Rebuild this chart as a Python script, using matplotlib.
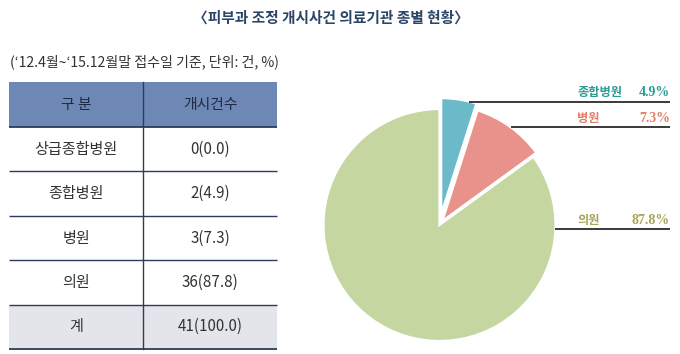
import numpy as np
import matplotlib
matplotlib.use('Agg')
import matplotlib.pyplot as plt
from matplotlib.patches import Rectangle

plt.rcParams['font.family'] = ['Noto Sans CJK KR', 'DejaVu Sans']

# table data
col_heads = ['구 분', '개시건수']
categories = ['상급종합병원', '종합병원', '병원', '의원']
counts = [0, 2, 3, 36]
shares = [0.0, 4.9, 7.3, 87.8]
total_label = '계'
total_count = 41
total_share = 100.0

# pie data (wedge sizes as drawn in the picture, labels as printed)
pie_labels = ['종합병원', '병원', '의원']
pie_pct = [4.9, 7.3, 87.8]
pie_drawn = [4.9, 10.1, 85.0]
pie_colors = ['#6bbac9', '#e8928b', '#c5d6a1']
text_colors = ['#2a9b94', '#e07f6c', '#a9a458']
explode = [11, 5, 0]
leader_angle = [76, 54, -2]

W, H = 680, 354
fig = plt.figure(figsize=(W / 100, H / 100), dpi=100)
ax = fig.add_axes([0, 0, 1, 1])

def Y(y):
    return H - y

# title / subtitle
ax.text(331, Y(18), '〈피부과 조정 개시사건 의료기관 종별 현황〉', ha='center', va='center',
        fontsize=10.6, fontweight='bold', color='#2a4565')
ax.text(10, Y(62), '(‘12.4월~‘15.12월말 접수일 기준, 단위: 건, %)', ha='left', va='center',
        fontsize=10.1, color='#333333')

# table
x0, xm, x1 = 9, 143, 277
head_top, head_bot = 82, 127
row_h = 44.4
line_c = '#2b3c5c'
n = len(categories) + 1
bounds = [head_bot + i * row_h for i in range(n + 1)]

ax.add_patch(Rectangle((x0, Y(head_bot)), x1 - x0, head_bot - head_top,
                       facecolor='#6d88b4', edgecolor='none'))
ax.add_patch(Rectangle((x0, Y(bounds[-1])), x1 - x0, row_h,
                       facecolor='#e3e5ea', edgecolor='none'))
for i, b in enumerate(bounds):
    ax.plot([x0, x1], [Y(b), Y(b)], color=line_c, lw=1.3 if i in (0, n) else 1.0,
            solid_capstyle='butt')
ax.plot([xm, xm], [Y(head_top), Y(bounds[-1])], color=line_c, lw=1.0)

cx_a, cx_b = (x0 + xm) / 2, (xm + x1) / 2
hy = (head_top + head_bot) / 2
ax.text(cx_a, Y(hy), col_heads[0], ha='center', va='center', fontsize=10.7, color='#1d2b47')
ax.text(cx_b, Y(hy), col_heads[1], ha='center', va='center', fontsize=10.7, color='#1d2b47')

rows = [(c, f'{k}({s:.1f})') for c, k, s in zip(categories, counts, shares)]
rows.append((total_label, f'{total_count}({total_share:.1f})'))
for i, (a, b) in enumerate(rows):
    yc = (bounds[i] + bounds[i + 1]) / 2
    ax.text(cx_a, Y(yc), a, ha='center', va='center', fontsize=10.9, color='#333333')
    ax.text(cx_b, Y(yc), b, ha='center', va='center', fontsize=10.9, color='#333333')

# pie
wedges, _ = ax.pie(pie_drawn, colors=pie_colors, startangle=90, counterclock=False,
                   explode=explode, center=(439.5, Y(225)), radius=116,
                   wedgeprops=dict(edgecolor='white', linewidth=1.6))

x_end = 670
for w, lab, pct, tc, ang in zip(wedges, pie_labels, pie_pct, text_colors, leader_angle):
    cx, cy = w.center
    sx = cx + w.r * np.cos(np.radians(ang))
    sy = cy + w.r * np.sin(np.radians(ang))
    ax.plot([sx, x_end], [sy, sy], color='#3a3a3a', lw=1.4, solid_capstyle='butt')
    ax.text(577, sy + 2.5, lab, ha='left', va='bottom', fontsize=8.8, fontweight='bold', color=tc)
    ax.text(x_end, sy + 2.5, f'{pct}%', ha='right', va='bottom', fontsize=10,
            fontweight='bold', color=tc, family=['Liberation Serif', 'DejaVu Serif'])

ax.set_xlim(0, W)
ax.set_ylim(0, H)
ax.set_aspect('auto')
ax.axis('off')

fig.savefig('out.png', dpi=100)
